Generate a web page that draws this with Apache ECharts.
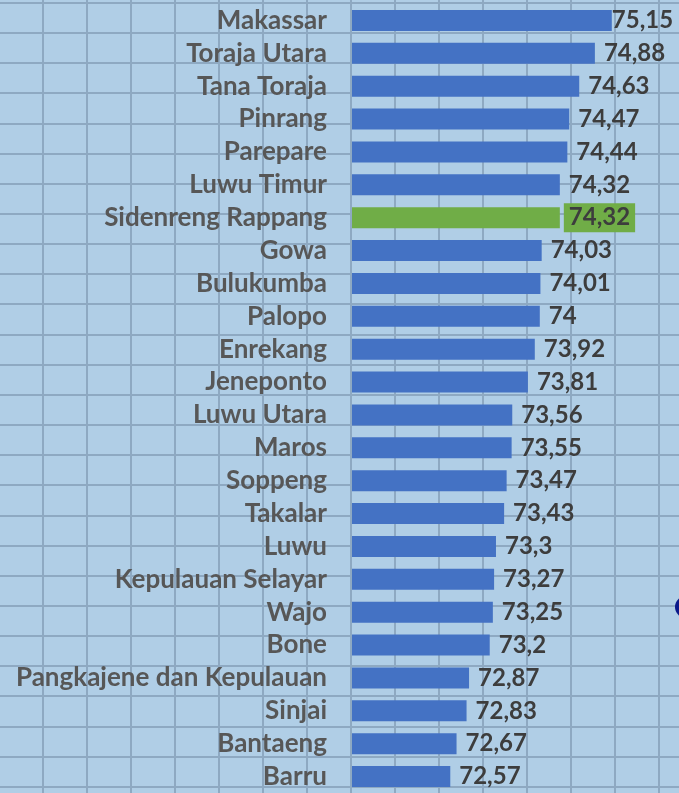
<!DOCTYPE html>
<html>
<head>
<meta charset="utf-8">
<script src="https://cdn.jsdelivr.net/npm/echarts@6/dist/echarts.min.js"></script>
<style>
  html, body {
    margin: 0;
    padding: 0;
  }
  body {
    width: 679px;
    height: 793px;
    overflow: hidden;
    background-color: #b0cee6;
    background-image:
      repeating-linear-gradient(to right, transparent 0px, transparent 42px, #8ea9c2 42px, #8ea9c2 44px),
      repeating-linear-gradient(to bottom, transparent 0px, transparent 2px, #8ea9c2 2px, #8ea9c2 4px, transparent 4px, transparent 30.15px);
  }
  #chart {
    width: 679px;
    height: 793px;
  }
</style>
</head>
<body>
<div id="chart"></div>
<script>
  // kabupaten / kota, urut dari atas
  var regions = [
    'Makassar', 'Toraja Utara', 'Tana Toraja', 'Pinrang', 'Parepare',
    'Luwu Timur', 'Sidenreng Rappang', 'Gowa', 'Bulukumba', 'Palopo',
    'Enrekang', 'Jeneponto', 'Luwu Utara', 'Maros', 'Soppeng',
    'Takalar', 'Luwu', 'Kepulauan Selayar', 'Wajo', 'Bone',
    'Pangkajene dan Kepulauan', 'Sinjai', 'Bantaeng', 'Barru'
  ];
  var values = [
    75.15, 74.88, 74.63, 74.47, 74.44,
    74.32, 74.32, 74.03, 74.01, 74,
    73.92, 73.81, 73.56, 73.55, 73.47,
    73.43, 73.3, 73.27, 73.25, 73.2,
    72.87, 72.83, 72.67, 72.57
  ];
  var highlight = 'Sidenreng Rappang';

  var blue = '#4472c4';
  var green = '#70ad47';

  var seriesData = values.map(function (v, i) {
    var item = { value: v };
    if (regions[i] === highlight) {
      item.itemStyle = { color: green };
      item.label = {
        backgroundColor: green,
        padding: [3, 5, 2, 5],
        distance: 4
      };
    }
    if (i === 0) {
      // label digeser agar muat di tepi kanan
      item.label = { distance: 0 };
    }
    return item;
  });

  var chart = echarts.init(document.getElementById('chart'));
  chart.setOption({
    backgroundColor: 'transparent',
    animation: false,
    grid: {
      left: 352,
      right: 14,
      top: 4,
      height: 791.5
    },
    xAxis: {
      type: 'value',
      min: 71,
      max: 76,
      show: false
    },
    yAxis: {
      type: 'category',
      data: regions,
      inverse: true,
      axisLine: { show: false },
      axisTick: { show: false },
      splitLine: { show: false },
      axisLabel: {
        interval: 0,
        margin: 25,
        color: '#575757',
        fontFamily: 'Lato',
        fontWeight: 'bold',
        fontSize: 26
      }
    },
    series: [{
      type: 'bar',
      data: seriesData,
      barWidth: 21,
      itemStyle: { color: blue },
      label: {
        show: true,
        position: 'right',
        distance: 9,
        color: '#3d3d3d',
        fontFamily: 'Lato',
        fontWeight: 'bold',
        fontSize: 24,
        formatter: function (p) {
          return String(p.value).replace('.', ',');
        }
      }
    }],
    graphic: [{
      type: 'circle',
      shape: { cx: 686, cy: 607, r: 11 },
      style: { fill: '#0a1a8a' },
      silent: true
    }]
  });
</script>
</body>
</html>
